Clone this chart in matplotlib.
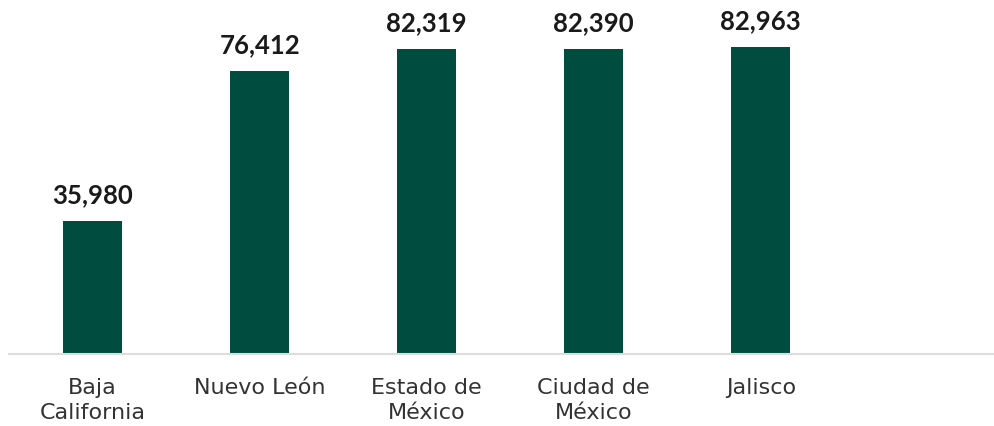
import matplotlib
matplotlib.use("Agg")
import matplotlib.pyplot as plt

categories = ["Baja\nCalifornia", "Nuevo León", "Estado de\nMéxico", "Ciudad de\nMéxico", "Jalisco"]
values = [35980, 76412, 82319, 82390, 82963]

bar_color = "#004D40"

fig = plt.figure(figsize=(9.95, 4.26), dpi=100)
ax = fig.add_axes([9/995, 72/426, 984/995, 354/426])

x = list(range(len(categories)))
ax.bar(x, values, width=0.353, color=bar_color, zorder=2)

for xi, v in zip(x, values):
    ax.annotate(f"{v:,}", (xi, v), xytext=(0, 10), textcoords="offset points",
                ha="center", va="bottom", fontsize=18.5, fontweight="bold",
                color="#1a1a1a", family="Lato")

ax.set_xlim(-0.5, 5.39)
ax.set_ylim(0, 95600)
ax.set_xticks(x)
ax.set_xticklabels(categories, fontsize=16, color="#333333", family="DejaVu Sans",
                   linespacing=1.32)
ax.tick_params(axis="x", length=0, pad=17)
ax.set_yticks([])
for s in ["top", "right", "left"]:
    ax.spines[s].set_visible(False)
ax.spines["bottom"].set_color("#dddddd")
ax.spines["bottom"].set_linewidth(1.5)

fig.savefig("out.png", dpi=100)
